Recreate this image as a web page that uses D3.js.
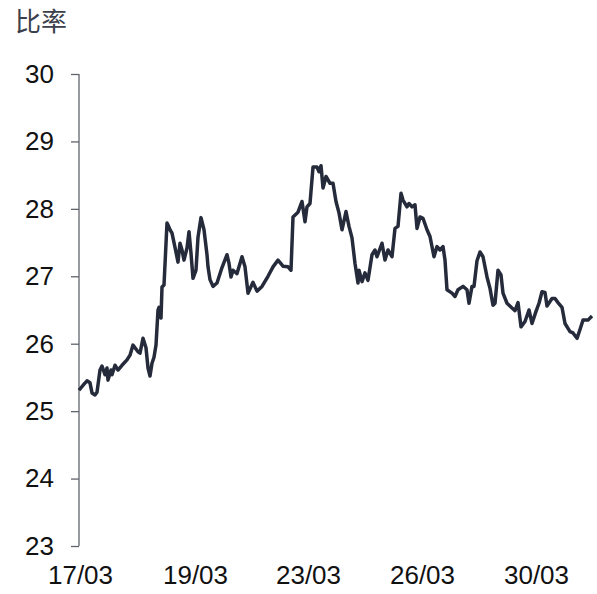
<!DOCTYPE html>
<html>
<head>
<meta charset="utf-8">
<script src="https://cdn.jsdelivr.net/npm/d3@7"></script>
<style>
  body { margin: 0; background: #fff; }
  text { font-family: "Liberation Sans", Arial, sans-serif; }
</style>
</head>
<body>
<div id="chart"></div>
<script>
//////////////////////////////////////////////
// data //////////////////////////////////////
//////////////////////////////////////////////
// observation number (trading periods since the start) and ratio read off the picture
var obs = [0, 5, 8, 11, 13, 16, 18, 21, 23, 26, 28, 29, 32, 33, 36, 39, 43, 48, 51, 54,
  59, 61, 64, 67, 69, 71, 73, 75, 77, 79, 80, 82, 83, 85, 88, 89, 91, 93, 96, 99,
  101, 103, 105, 108, 110, 112, 114, 117, 119, 122, 125, 128, 129, 131, 134, 138, 143, 148, 150, 152,
  154, 158, 163, 166, 169, 174, 178, 183, 189, 194, 199, 204, 209, 212, 214, 219, 223, 226, 228, 231,
  234, 238, 240, 242, 244, 247, 251, 254, 257, 260, 263, 267, 270, 273, 276, 279, 280, 283, 286, 289,
  293, 296, 298, 303, 306, 309, 313, 316, 319, 322, 324, 328, 330, 333, 336, 338, 341, 344, 348, 351,
  355, 358, 361, 364, 366, 368, 373, 376, 379, 384, 388, 390, 393, 395, 398, 401, 404, 408, 411, 414,
  416, 419, 422, 424, 428, 433, 436, 439, 442, 446, 450, 453, 457, 460, 463, 466, 468, 473, 476, 479,
  483, 486, 491, 494, 498, 501, 504, 509, 513];

var ratio = [25.31, 25.40, 25.45, 25.42, 25.27, 25.24, 25.28, 25.61, 25.67, 25.54, 25.64, 25.46, 25.61, 25.54, 25.68, 25.61, 25.68, 25.76, 25.83, 25.98,
  25.88, 25.86, 26.08, 25.94, 25.64, 25.52, 25.71, 25.80, 25.98, 26.50, 26.54, 26.38, 26.84, 26.87, 27.79, 27.76, 27.69, 27.64, 27.43, 27.21,
  27.49, 27.39, 27.24, 27.42, 27.66, 27.34, 26.97, 27.09, 27.58, 27.87, 27.69, 27.32, 27.14, 26.95, 26.85, 26.90, 27.13, 27.32, 27.19, 26.99,
  27.09, 27.04, 27.29, 27.14, 26.75, 26.91, 26.78, 26.85, 27.00, 27.14, 27.24, 27.15, 27.14, 27.09, 27.88, 27.95, 28.11, 27.81, 28.03, 28.08,
  28.62, 28.62, 28.55, 28.64, 28.31, 28.48, 28.38, 28.38, 28.11, 27.94, 27.69, 27.96, 27.74, 27.57, 27.19, 26.90, 27.09, 26.92, 27.05, 26.94,
  27.32, 27.39, 27.29, 27.49, 27.24, 27.39, 27.29, 27.71, 27.74, 28.23, 28.13, 28.03, 28.08, 28.03, 28.06, 27.71, 27.88, 27.86, 27.69, 27.59,
  27.29, 27.44, 27.39, 27.44, 27.24, 26.80, 26.75, 26.70, 26.80, 26.85, 26.80, 26.60, 26.85, 26.85, 27.23, 27.36, 27.29, 26.99, 26.82, 26.57,
  26.60, 27.09, 27.02, 26.75, 26.60, 26.53, 26.49, 26.61, 26.25, 26.33, 26.50, 26.30, 26.48, 26.60, 26.77, 26.76, 26.56, 26.67, 26.67, 26.61,
  26.54, 26.30, 26.18, 26.16, 26.08, 26.21, 26.35, 26.35, 26.41];

// x tick labels and the observation they sit on
var tickLabels = ["17/03", "19/03", "23/03", "26/03", "30/03"];
var tickObs = [1, 116, 229, 343, 457];

var yTicks = [23, 24, 25, 26, 27, 28, 29, 30];
var yTitle = "比率";

var data = obs.map(function(d, i) { return {obs: d, ratio: ratio[i]}; });

//////////////////////////////////////////////
// Chart Config /////////////////////////////
//////////////////////////////////////////////
var width = 597, height = 594;
var margin = {top: 74, right: 5, bottom: 48, left: 79};
var innerW = width - margin.left - margin.right,
    innerH = height - margin.top - margin.bottom;

var xScale = d3.scaleLinear().domain([0, 513]).range([0, 513]);
var yScale = d3.scaleLinear().domain([23, 30]).range([innerH, 0]);

var svg = d3.select("#chart")
    .append("svg")
    .attr("width", width)
    .attr("height", height);

var artboard = svg.append("g")
    .attr("transform", "translate(" + margin.left + "," + margin.top + ")");

// y axis: line plus ticks on the left
var yAxis = d3.axisLeft(yScale)
    .tickValues(yTicks)
    .tickSize(8)
    .tickPadding(17)
    .tickFormat(d3.format("d"));

var yAxisEl = artboard.append("g")
    .attr("class", "y axis")
    .call(yAxis);

yAxisEl.select(".domain")
    .attr("d", "M0," + yScale(23) + "V" + yScale(30))
    .attr("stroke", "#60646c")
    .attr("stroke-width", 1.3);
yAxisEl.selectAll(".tick line")
    .attr("stroke", "#60646c")
    .attr("stroke-width", 1.3);
yAxisEl.selectAll(".tick text")
    .attr("fill", "#111")
    .style("font-size", "26px");

// x axis: labels only, no line
var xAxis = d3.axisBottom(xScale)
    .tickValues(tickObs)
    .tickSize(0)
    .tickPadding(20)
    .tickFormat(function(d, i) { return tickLabels[i]; });

var xAxisEl = artboard.append("g")
    .attr("class", "x axis")
    .attr("transform", "translate(0," + innerH + ")")
    .call(xAxis);

xAxisEl.select(".domain").remove();
xAxisEl.selectAll(".tick text")
    .attr("fill", "#111")
    .style("font-size", "26px");

// the ratio line
var line = d3.line()
    .x(function(d) { return xScale(d.obs); })
    .y(function(d) { return yScale(d.ratio); });

artboard.append("path")
    .datum(data)
    .attr("class", "trace")
    .attr("d", line)
    .style("fill", "none")
    .style("stroke", "#252b3a")
    .style("stroke-width", "3.5px")
    .style("stroke-linejoin", "round");

// title top left
svg.append("text")
    .attr("x", 15)
    .attr("y", 31)
    .attr("fill", "#3b404b")
    .style("font-family", "'Noto Sans CJK SC', sans-serif")
    .style("font-size", "26px")
    .text(yTitle);
</script>
</body>
</html>
